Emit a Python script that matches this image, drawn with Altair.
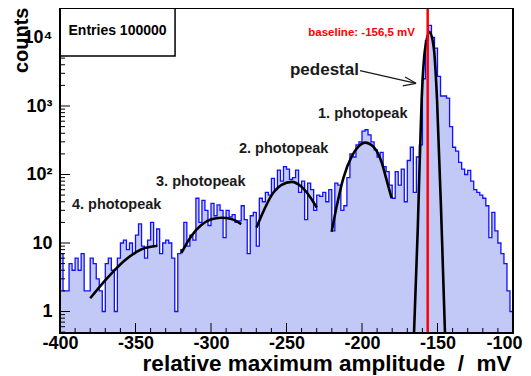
import altair as alt
import pandas as pd

FONT = "Liberation Sans"

# ---------------- data ----------------
x_start = -400          # left edge of first bin (mV)
bin_width = 2           # mV
counts = [
    7, 2, 2, 5, 4, 6, 4, 7, 2, 2,
    6, 5, 3, 2, 1, 5, 6, 4, 1, 6,
    10, 11, 8, 10, 7, 13, 19, 9, 6, 11,
    20, 9, 16, 7, 10, 11, 10, 6, 1, 7,
    8, 20, 9, 13, 11, 45, 20, 42, 30, 18,
    38, 25, 36, 30, 12, 30, 24, 26, 20, 21,
    35, 22, 7, 25, 28, 9, 45, 40, 55, 50,
    88, 60, 116, 80, 130, 120, 85, 90, 116, 55,
    80, 22, 75, 60, 30, 50, 48, 55, 40, 60,
    15, 75, 70, 30, 35, 90, 200, 180, 270, 300,
    430, 450, 380, 300, 230, 180, 210, 130, 110, 70,
    45, 110, 70, 120, 40, 160, 250, 55, 180, 270,
    2500, 9000, 15000, 10000, 7000, 2700, 1400, 1400, 1300, 500,
    250, 220, 150, 120, 100, 115, 80, 60, 55, 50,
    45, 35, 12, 28, 15, 10, 7, 5, 2, 1,
]

baseline_mv = -156.5

# Gaussian fit curves
fit4_x = [-380, -368, -357, -346, -335.5]
fit4_y = [1.56, 3.2, 5.6, 8.1, 9.1]
fit3_x = [-319.6, -313, -306.4, -299.8, -293.2, -286.5, -280]
fit3_y = [7.2, 12.7, 18.3, 22.2, 23.4, 22.4, 18.9]
fit2_x = [-269.8, -265.4, -259.8, -253.2, -246.6, -240, -234.5, -230]
fit2_y = [16.9, 28.6, 50, 70.5, 78, 66, 47.5, 33]
fit1_x = [-220.1, -216.8, -212.4, -206.9, -202.4, -198, -192.5, -187, -183.5, -180.4]
fit1_y = [14.6, 34, 88, 182, 255, 292, 255, 150, 80, 45]
fitp_x = [-165.6, -163.1, -160.5, -158.3, -155.2, -152.3, -150.3, -147.2, -145]
fitp_y = [0.45, 15.4, 1230, 6570, 12000, 6570, 1230, 15.4, 0.45]

x_tick_labels = [-400, -350, -300, -250, -200, -150, -100]
y_tick_labels = [1, 10, 100, 1000, 10000]
x_minor = [v for v in range(-390, -100, 10) if v % 50 != 0]
y_minor = [m * 10 ** e for e in range(-1, 5) for m in range(2, 10)
           if 0.49 <= m * 10 ** e <= 26000 and not (e == -1 and m < 5)]

x_title = "relative maximum amplitude\u00a0\u00a0/\u00a0\u00a0mV"

# ---------------- layout ----------------
W, H = 453, 325
y_min, y_max = 0.4855, 26960
x_scale = alt.Scale(domain=[-400, -100], nice=False, zero=False)
y_scale = alt.Scale(type="log", domain=[y_min, y_max], nice=False)

edges = [x_start + bin_width * i for i in range(len(counts) + 1)]
hist = pd.DataFrame({"mv": edges, "count": counts + [counts[-1]]})

y_label_expr = ("datum.value < 5 ? '1' : datum.value < 50 ? '10' : "
                "datum.value < 500 ? '10\u00b2' : datum.value < 5000 ? '10\u00b3' : '10\u2074'")

x_axis = alt.Axis(values=x_tick_labels, labelExpr="'' + datum.value", ticks=False,
                  domain=False, grid=False, labelFont=FONT, labelFontSize=18,
                  labelFontWeight="bold", labelColor="black", labelPadding=1,
                  labelFlush=False, labelOverlap=False,
                  labelAlign={"condition": {"test": "datum.value == -100", "value": "right"},
                              "value": "center"},
                  labelOffset={"condition": {"test": "datum.value == -100", "value": 9},
                               "value": 0},
                  title=x_title, titleFont=FONT,
                  titleFontSize=22.5, titleFontWeight="bold", titleColor="black",
                  titleAnchor="end", titleAlign="right", titleX=451, titleY=37,
                  titleBaseline="alphabetic")
y_axis = alt.Axis(values=y_tick_labels, labelExpr=y_label_expr, ticks=False,
                  domain=False, grid=False, labelFont=FONT, labelFontSize=18,
                  labelFontWeight="bold", labelColor="black", labelPadding=8,
                  labelFlush=False, labelOverlap=False,
                  title="counts", titleFont=FONT, titleFontSize=20,
                  titleFontWeight="bold", titleColor="black", titleAngle=-90,
                  titleAlign="right", titleBaseline="alphabetic", titleX=-33, titleY=-1)

X = lambda f="mv:Q": alt.X(f, scale=x_scale, axis=x_axis)
Y = lambda f="count:Q": alt.Y(f, scale=y_scale, axis=y_axis)

area = alt.Chart(hist).mark_area(interpolate="step-after", color="#c3c9f6", clip=True).encode(
    x=X(), y=Y(), y2=alt.datum(y_min),
)
outline = alt.Chart(hist).mark_line(interpolate="step-after", color="#1010ff",
                                    strokeWidth=1.3, clip=True).encode(x=X(), y=Y())

fit_rows = []
for name, xs, ys in [("p4", fit4_x, fit4_y), ("p3", fit3_x, fit3_y), ("p2", fit2_x, fit2_y),
                     ("p1", fit1_x, fit1_y), ("ped", fitp_x, fitp_y)]:
    for i, (a, b) in enumerate(zip(xs, ys)):
        fit_rows.append({"fit": name, "i": i, "mv": a, "count": b})
fits = alt.Chart(pd.DataFrame(fit_rows)).mark_line(
    interpolate="monotone", color="black", strokeWidth=2.6, clip=True).encode(
    x=X(), y=Y(), detail="fit:N", order="i:Q",
)

red = alt.Chart(pd.DataFrame({"mv": [baseline_mv]})).mark_rule(
    color="#ff0000", strokeWidth=2.5).encode(x=X())

def xticks(vals, length):
    return alt.Chart(pd.DataFrame({"mv": vals})).mark_rule(color="black", strokeWidth=1).encode(
        x=X(), y=alt.value(H), y2=alt.value(H - length))

def yticks(vals, length):
    return alt.Chart(pd.DataFrame({"count": vals})).mark_rule(color="black", strokeWidth=1).encode(
        y=Y(), x=alt.value(0), x2=alt.value(length))

box = alt.Chart(pd.DataFrame({"mv": [-400], "mv2": [-323.8], "count": [5370], "count2": [y_max]})
                ).mark_rect(fill="white", stroke="black", strokeWidth=1.5).encode(
    x=X(), x2="mv2:Q", y=Y(), y2="count2:Q")

def label(text, x, y, size, color="#1a1a1a", align="left"):
    return alt.Chart(pd.DataFrame({"mv": [x], "count": [y], "t": [text]})).mark_text(
        font=FONT, fontSize=size, fontWeight="bold", color=color, align=align,
        baseline="middle").encode(x=X(), y=Y(), text="t:N")

texts = [
    label("Entries 100000", -361.9, 12450, 14, "black", "center"),
    label("baseline: -156,5 mV", -164.9, 11640, 11.5, "#ff0000", "right"),
    label("pedestal", -247.7, 3300, 17),
    label("1. photopeak", -229.1, 764, 14.5),
    label("2. photopeak", -281.5, 236, 14.5),
    label("3. photopeak", -336.4, 77.8, 14.5),
    label("4. photopeak", -392.1, 35.3, 14.5),
]

arrow = alt.Chart(pd.DataFrame({
    "mv": [-201.3, -164.2, -164.2], "count": [3275, 2145, 2145],
    "mv2": [-164.2, -171.5, -173.0], "count2": [2145, 2650, 1960]})).mark_rule(
    color="#1a1a1a", strokeWidth=1.3).encode(
    x=X(), x2="mv2:Q", y=Y(), y2="count2:Q")

frame = alt.Chart(pd.DataFrame({"a": [0]})).mark_rect(
    fill="transparent", stroke="black", strokeWidth=2).encode(
    x=alt.value(0), x2=alt.value(W), y=alt.value(0), y2=alt.value(H))

chart = alt.layer(
    area, outline, fits, red,
    xticks([-350, -300, -250, -200, -150], 10), xticks(x_minor, 5),
    yticks(y_tick_labels, 10), yticks(y_minor, 5),
    box, *texts, arrow, frame,
).properties(
    width=W, height=H,
    padding={"left": 52, "top": 0, "right": 10, "bottom": 42},
    autosize=alt.AutoSizeParams(type="none"),
).configure_view(stroke=None).configure(background="white")

chart.save("out.html", embed_options={"renderer": "svg", "actions": False})
